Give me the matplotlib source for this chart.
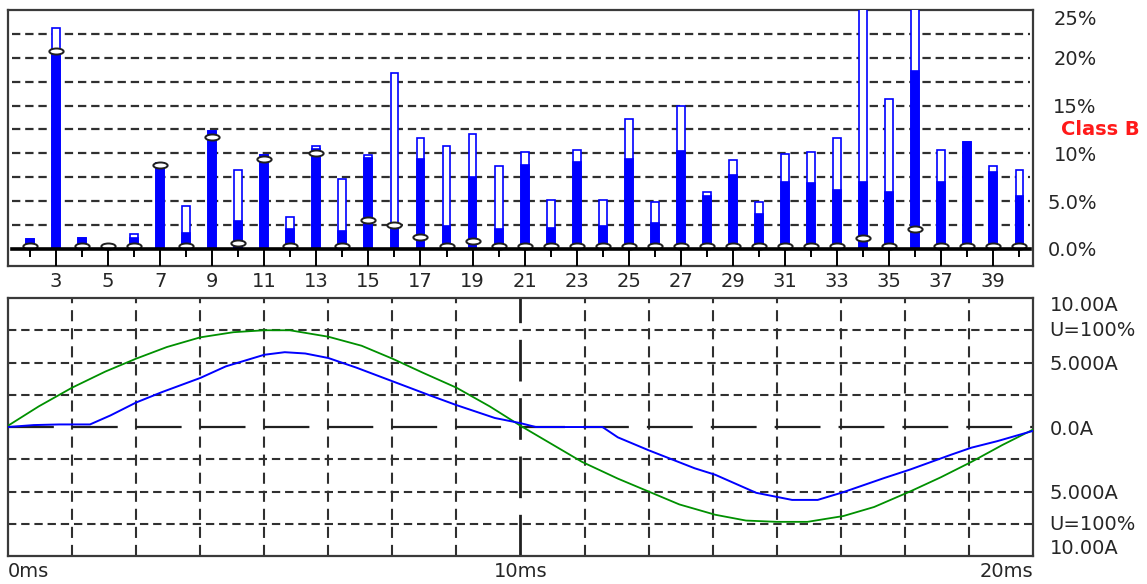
import matplotlib
matplotlib.use("Agg")
import matplotlib.pyplot as plt
from matplotlib.path import Path
from matplotlib.transforms import Affine2D, blended_transform_factory

plt.rcParams['font.family'] = ['DejaVu Sans']
plt.rcParams['lines.scale_dashes'] = False

# harmonics spectrum (% of fundamental)
harmonics = list(range(2, 41))
valor_actual = [1.0, 20.6, 1.2, 0.3, 1.1, 9.0, 1.7, 12.3, 2.9, 9.8,
                2.1, 10.5, 1.9, 9.5, 2.2, 9.4, 2.4, 7.5, 2.1, 8.8,
                2.2, 9.1, 2.4, 9.4, 2.7, 10.2, 5.5, 7.7, 3.7, 7.0,
                6.9, 6.2, 7.0, 6.0, 18.6, 7.0, 11.2, 8.1, 5.5]
valor_maximo = [1.0, 23.1, 1.2, 0.3, 1.6, 9.0, 4.5, 12.3, 8.3, 9.8,
                3.3, 10.8, 7.3, 9.8, 18.4, 11.6, 10.8, 12.0, 8.7, 10.1,
                5.1, 10.4, 5.1, 13.6, 4.9, 15.0, 6.0, 9.3, 4.9, 9.9,
                10.1, 11.6, 27.0, 15.7, 27.0, 10.4, 11.2, 8.7, 8.3]
limite = [0.35, 20.7, 0.35, 0.35, 0.35, 8.8, 0.35, 11.7, 0.65, 9.4,
          0.35, 10.0, 0.35, 3.0, 2.5, 1.25, 0.35, 0.87, 0.35, 0.35,
          0.35, 0.35, 0.35, 0.35, 0.35, 0.35, 0.35, 0.35, 0.35, 0.35,
          0.35, 0.35, 1.2, 0.35, 2.1, 0.35, 0.35, 0.35, 0.35]
etiquetas_pct = ['0.0%', '5.0%', '10%', '15%', '20%', '25%']
niveles_pct = [0, 5, 10, 15, 20, 25]

# waveform over one period
t_corriente = [0, 0.5, 1.0, 1.6, 2.0, 2.5, 3.0, 3.75, 4.25, 5.0, 5.4, 5.8,
               6.25, 6.8, 7.5, 8.2, 8.75, 9.5, 10.0, 10.3, 11.6, 11.9, 12.5,
               13.4, 13.8, 14.6, 15.3, 15.8, 16.3, 17.1, 17.6, 18.4, 18.8,
               19.3, 20.0]
corriente = [0.0, 0.15, 0.2, 0.2, 0.9, 1.9, 2.7, 3.8, 4.7, 5.6, 5.8, 5.7,
             5.35, 4.6, 3.55, 2.5, 1.7, 0.7, 0.3, 0.0, 0.0, -0.8, -1.8,
             -3.2, -3.7, -5.1, -5.65, -5.65, -5.05, -3.95, -3.3, -2.15, -1.6,
             -1.1, -0.3]
t_tension = [0, 0.6, 1.25, 1.9, 2.5, 3.1, 3.75, 4.4, 5.0, 5.5, 6.25, 6.9,
             7.5, 8.1, 8.75, 9.4, 10.0, 10.6, 11.2, 11.9, 12.5, 13.1, 13.8,
             14.4, 15.0, 15.6, 16.3, 16.9, 17.6, 18.2, 18.8, 19.4, 20.0]
tension = [0.1, 1.6, 3.05, 4.3, 5.3, 6.2, 6.95, 7.35, 7.5, 7.5, 7.0, 6.3,
           5.3, 4.2, 3.05, 1.6, 0.1, -1.3, -2.7, -4.0, -5.0, -6.0, -6.8,
           -7.25, -7.35, -7.35, -6.9, -6.2, -5.0, -3.9, -2.7, -1.4, -0.2]
etiquetas_amp = ['10.00A', 'U=100%', '5.000A', '0.0A', '5.000A', 'U=100%', '10.00A']
pos_amp = [9.6, 7.6, 5.0, 0.0, -5.0, -7.4, -9.3]

AZUL = '#0000ff'
VERDE = '#009000'
MARCO = '#3a3a3a'
TEXTO = '#262626'
FS = 14

fig = plt.figure(figsize=(11.47, 5.84), dpi=100)
ax1 = fig.add_axes([0.00697, 0.5445, 0.8936, 0.4384])
ax2 = fig.add_axes([0.00697, 0.0479, 0.8936, 0.4418])

# ---- espectro ----
ax1.set_xlim(1.16, 40.52)
ax1.set_ylim(-1.78, 25)
for y in [2.5, 5, 7.5, 10, 12.5, 15, 17.5, 20, 22.5]:
    ax1.axhline(y, xmin=0.004, xmax=0.997, color='#303030', lw=1.6,
                linestyle=(0, (6, 3.5)), zorder=1)
ax1.axhline(0, xmin=0.004, xmax=0.997, color='black', lw=2.6, zorder=6)

ax1.bar(harmonics, valor_maximo, width=0.3, color='white', edgecolor=AZUL,
        linewidth=1.2, zorder=3)
ax1.bar(harmonics, valor_actual, width=0.3, color=AZUL, edgecolor=AZUL,
        linewidth=1.2, zorder=4)
ovalo = Path.unit_circle().transformed(Affine2D().scale(1.0, 0.42))
ax1.plot(harmonics, limite, linestyle='none', marker=ovalo, markersize=10.3,
         markerfacecolor='white', markeredgecolor='#202020',
         markeredgewidth=1.4, zorder=5)

impares = [h for h in harmonics if h % 2 == 1]
pares = [h for h in harmonics if h % 2 == 0]
ax1.vlines(impares, -1.78, 0, color='black', lw=1.4, zorder=6)
ax1.vlines(pares, -0.85, 0, color='black', lw=1.4, zorder=6)

ax1.set_xticks(impares)
ax1.set_xticklabels([str(h) for h in impares], fontsize=FS, color=TEXTO)
ax1.tick_params(axis='x', length=0, pad=4)
ax1.yaxis.tick_right()
ax1.set_yticks(niveles_pct)
ax1.set_yticklabels(etiquetas_pct, fontsize=FS, color=TEXTO, ha='right')
ax1.get_yticklabels()[-1].set_va('top')
ax1.tick_params(axis='y', length=0, pad=46)
ax1.text(1.1044, 12.5, 'Class B', transform=blended_transform_factory(ax1.transAxes, ax1.transData),
         color='#ff1a1a', fontsize=FS, fontweight='bold', ha='right', va='center')

# ---- forma de onda ----
ax2.set_xlim(0, 20)
ax2.set_ylim(-10, 10)
for y in [7.5, 5, 2.5, -2.5, -5, -7.5]:
    ax2.axhline(y, color='#303030', lw=1.5, linestyle=(0, (6, 3.5)), zorder=1)
for k in range(1, 16):
    if k == 8:
        continue
    ax2.axvline(k * 1.25, color='#303030', lw=1.5, linestyle=(0, (8, 5)), zorder=1)
ax2.axhline(0, color='#202020', lw=1.6, linestyle=(0, (33, 13)), zorder=1)
ax2.axvline(10, color='#202020', lw=2.0, linestyle=(0, (30, 12)), zorder=1)

ax2.plot(t_tension, tension, color=VERDE, lw=1.3, zorder=3)
ax2.plot(t_corriente, corriente, color=AZUL, lw=1.4, zorder=4)

ax2.set_xticks([0, 10, 20])
ax2.set_xticklabels(['0ms', '10ms', '20ms'], fontsize=FS, color=TEXTO)
for lab, ha in zip(ax2.get_xticklabels(), ['left', 'center', 'right']):
    lab.set_ha(ha)
ax2.tick_params(axis='x', length=0, pad=4)
ax2.yaxis.tick_right()
ax2.set_yticks(pos_amp)
ax2.set_yticklabels(etiquetas_amp, fontsize=FS, color=TEXTO)
ax2.tick_params(axis='y', length=0, pad=12)

for ax in (ax1, ax2):
    for s in ax.spines.values():
        s.set_color(MARCO)
        s.set_linewidth(1.6)

fig.savefig('out.png', dpi=100)
